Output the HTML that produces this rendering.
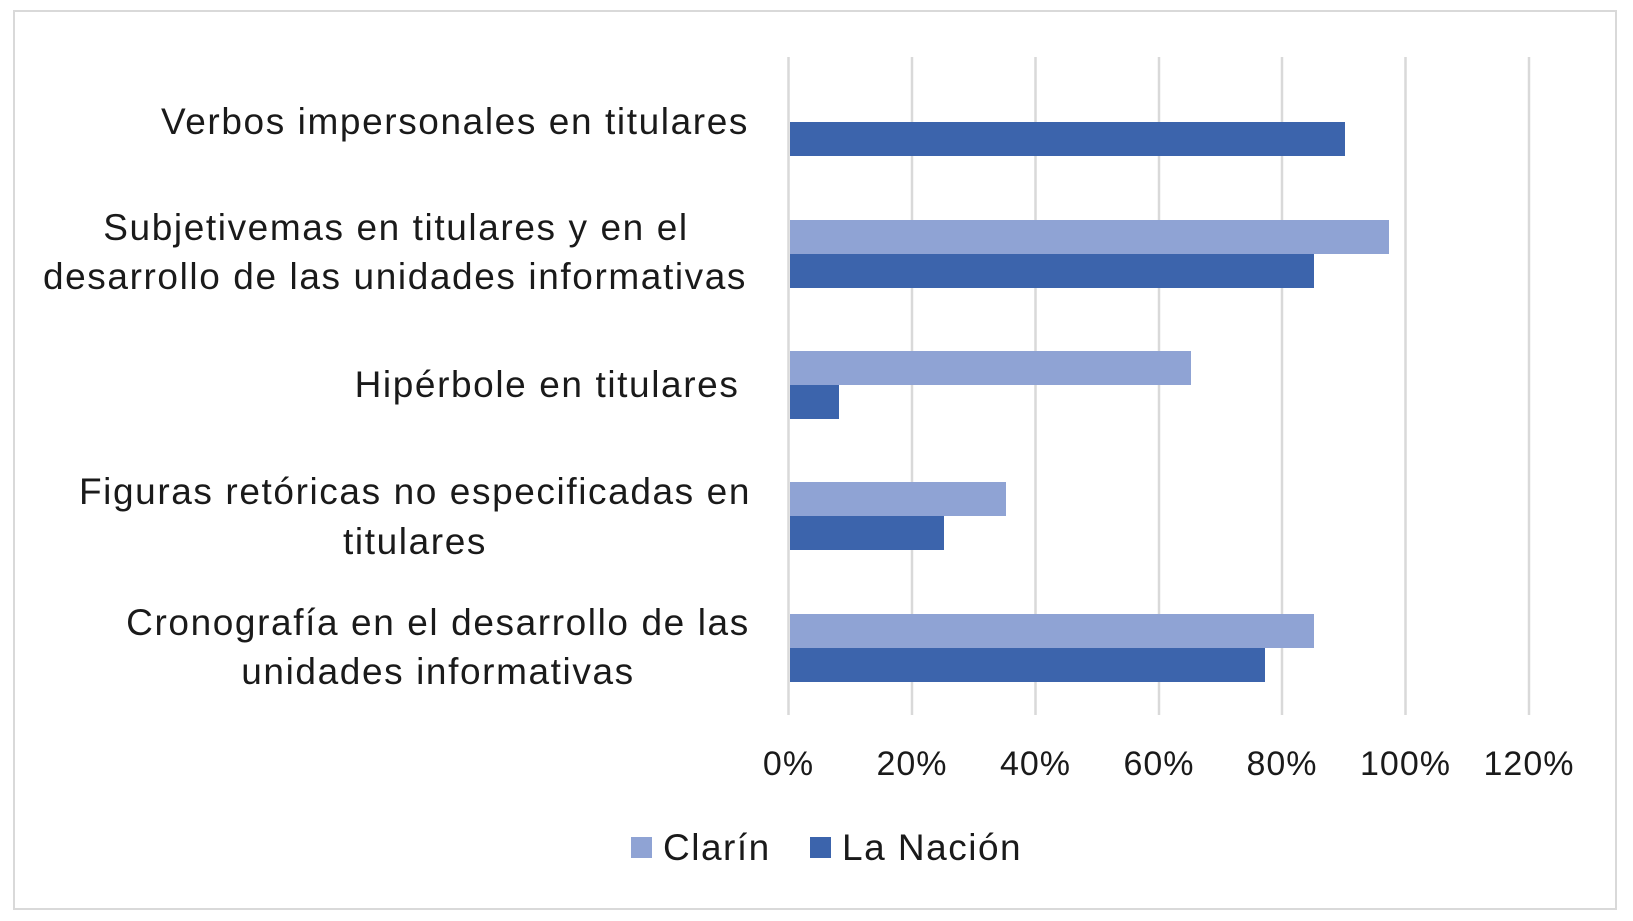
<!DOCTYPE html>
<html><head><meta charset="utf-8"><style>
html,body{margin:0;padding:0;background:#fff;}
svg{display:block;font-family:"Liberation Sans",sans-serif;}
</style></head><body>
<svg width="1633" height="921" viewBox="0 0 1633 921">
<rect x="14" y="11" width="1602" height="898" fill="#fff" stroke="#d9d9d9" stroke-width="2"/>
<g stroke="#d9d9d9" stroke-width="2.5">
<line x1="788.5" y1="57" x2="788.5" y2="715"/>
<line x1="912" y1="57" x2="912" y2="715"/>
<line x1="1035.5" y1="57" x2="1035.5" y2="715"/>
<line x1="1159" y1="57" x2="1159" y2="715"/>
<line x1="1282" y1="57" x2="1282" y2="715"/>
<line x1="1405.5" y1="57" x2="1405.5" y2="715"/>
<line x1="1529" y1="57" x2="1529" y2="715"/>
</g>
<g fill="#3c64ac">
<rect x="790" y="122" width="555" height="34"/>
<rect x="790" y="254" width="524" height="34"/>
<rect x="790" y="385" width="49" height="34"/>
<rect x="790" y="516" width="154" height="34"/>
<rect x="790" y="648" width="475" height="34"/>
</g>
<g fill="#8fa3d4">
<rect x="790" y="220" width="599" height="34"/>
<rect x="790" y="351" width="401" height="34"/>
<rect x="790" y="482" width="216" height="34"/>
<rect x="790" y="614" width="524" height="34"/>
</g>
<g font-size="37" fill="#1a1a1a" text-anchor="middle" letter-spacing="1.6">
<text x="455" y="134">Verbos impersonales en  titulares</text>
<text x="396" y="240">Subjetivemas en titulares y en el</text>
<text x="395" y="289">desarrollo de las unidades informativas</text>
<text x="547" y="397">Hipérbole en titulares</text>
<text x="415" y="504">Figuras retóricas no especificadas en</text>
<text x="415" y="554">titulares</text>
<text x="438" y="635">Cronografía en el desarrollo de las</text>
<text x="438" y="684">unidades informativas</text>
</g>
<g font-size="34" fill="#1a1a1a" text-anchor="middle" letter-spacing="1">
<text x="788.5" y="775">0%</text>
<text x="912" y="775">20%</text>
<text x="1035.5" y="775">40%</text>
<text x="1159" y="775">60%</text>
<text x="1282" y="775">80%</text>
<text x="1405.5" y="775">100%</text>
<text x="1529" y="775">120%</text>
</g>
<rect x="631" y="837" width="21" height="21" fill="#8fa3d4"/>
<text x="663" y="860" font-size="37" fill="#1a1a1a" letter-spacing="1.5">Clarín</text>
<rect x="810" y="837" width="21" height="21" fill="#3c64ac"/>
<text x="842" y="860" font-size="37" fill="#1a1a1a" letter-spacing="1.5">La Nación</text>
</svg>
</body></html>
